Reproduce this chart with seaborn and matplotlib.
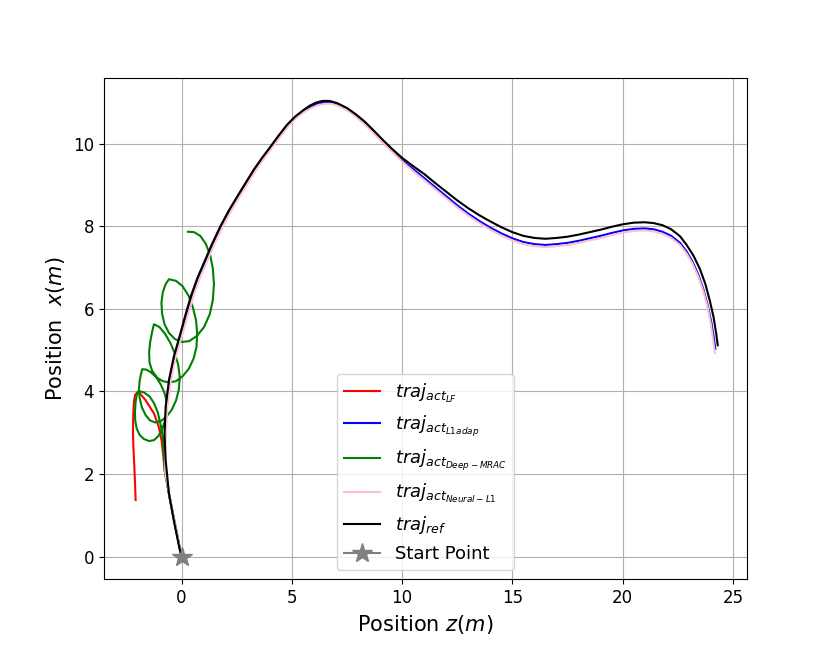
import pandas as pd
import seaborn as sns
import matplotlib
matplotlib.use('Agg')
import matplotlib.pyplot as plt

# reference trajectory
ref_z = [0.0, -0.12, -0.35, -0.57, -0.72, -0.77, -0.72, -0.57, -0.35, -0.05, 0.2, 0.45, 0.72, 1.01,
         1.38, 1.76, 2.14, 2.52, 2.9, 3.27, 3.65, 4.03, 4.4, 4.78, 5.15, 5.53, 5.8, 6.1, 6.4, 6.7,
         7.04, 7.5, 7.94, 8.3, 8.7, 9.1, 9.5, 10.0, 10.5, 11.0, 11.5, 12.0, 12.5, 13.0, 13.5, 14.0,
         14.5, 15.0, 15.5, 16.0, 16.5, 17.0, 17.5, 18.0, 18.5, 19.0, 19.5, 20.0, 20.5, 21.0, 21.4,
         21.8, 22.2, 22.6, 22.9, 23.2, 23.5, 23.75, 23.95, 24.12, 24.24, 24.31]
ref_x = [0.0, 0.27, 0.88, 1.53, 2.34, 2.98, 3.63, 4.28, 4.84, 5.41, 5.9, 6.35, 6.75, 7.11,
         7.57, 8.0, 8.38, 8.72, 9.05, 9.37, 9.66, 9.93, 10.2, 10.46, 10.66, 10.82, 10.92, 11.0, 11.04, 11.04,
         10.99, 10.87, 10.70, 10.54, 10.33, 10.11, 9.9, 9.66, 9.46, 9.27, 9.05, 8.84, 8.63, 8.44, 8.27, 8.12,
         7.98, 7.86, 7.77, 7.72, 7.70, 7.72, 7.75, 7.80, 7.86, 7.92, 7.99, 8.05, 8.09, 8.10, 8.08,
         8.03, 7.93, 7.76, 7.55, 7.3, 6.97, 6.6, 6.2, 5.8, 5.4, 5.12]

# L1 adaptive
l1_z = [0.0, -0.28, -0.55, -0.74, -0.76, -0.74, -0.68, -0.52, -0.3, 0.01, 0.26, 0.51, 0.78, 1.07,
        1.44, 1.82, 2.2, 2.58, 2.96, 3.33, 3.71, 4.09, 4.46, 4.84, 5.21, 5.59, 5.85, 6.15, 6.45, 6.75,
        7.08, 7.5, 7.94, 8.3, 8.7, 9.1, 9.5, 10.0, 10.5, 11.0, 11.5, 12.0, 12.5, 13.0, 13.5, 14.0,
        14.5, 15.0, 15.5, 16.0, 16.5, 17.0, 17.5, 18.0, 18.5, 19.0, 19.5, 20.0, 20.5, 21.0, 21.4,
        21.8, 22.2, 22.6, 22.9, 23.15, 23.42, 23.66, 23.86, 24.02, 24.13, 24.2]
l1_x = [0.0, 0.72, 1.45, 2.1, 2.6, 3.0, 3.63, 4.28, 4.84, 5.41, 5.9, 6.35, 6.75, 7.11,
        7.57, 8.0, 8.38, 8.72, 9.05, 9.37, 9.66, 9.93, 10.2, 10.46, 10.66, 10.82, 10.9, 10.97, 11.0, 11.0,
        10.95, 10.84, 10.66, 10.49, 10.28, 10.06, 9.85, 9.6, 9.39, 9.17, 8.95, 8.73, 8.51, 8.31, 8.13, 7.97,
        7.83, 7.71, 7.62, 7.57, 7.55, 7.57, 7.6, 7.65, 7.71, 7.77, 7.84, 7.9, 7.94, 7.95, 7.93,
        7.87, 7.77, 7.6, 7.39, 7.16, 6.84, 6.47, 6.07, 5.67, 5.3, 5.04]

# Neural-L1
nl1_z = [0.0, -0.27, -0.52, -0.74, -0.74, -0.71, -0.64, -0.48, -0.26, 0.05, 0.31, 0.56, 0.83, 1.12,
         1.49, 1.87, 2.25, 2.63, 3.01, 3.38, 3.76, 4.14, 4.51, 4.89, 5.26, 5.64, 5.9, 6.2, 6.5, 6.8,
         7.12, 7.55, 8.0, 8.35, 8.75, 9.15, 9.55, 10.0, 10.5, 11.0, 11.5, 12.0, 12.5, 13.0, 13.5, 14.0,
         14.5, 15.0, 15.5, 16.0, 16.5, 17.0, 17.5, 18.0, 18.5, 19.0, 19.5, 20.0, 20.5, 21.0, 21.4,
         21.8, 22.2, 22.6, 22.9, 23.15, 23.42, 23.66, 23.86, 24.0, 24.1, 24.18]
nl1_x = [0.0, 0.72, 1.4, 2.05, 2.6, 3.0, 3.63, 4.28, 4.84, 5.41, 5.9, 6.35, 6.75, 7.11,
         7.57, 8.0, 8.38, 8.72, 9.05, 9.37, 9.66, 9.93, 10.2, 10.46, 10.66, 10.8, 10.87, 10.94, 10.97, 10.97,
         10.92, 10.8, 10.62, 10.45, 10.24, 10.02, 9.81, 9.57, 9.34, 9.12, 8.9, 8.68, 8.46, 8.26, 8.08, 7.92,
         7.78, 7.66, 7.57, 7.52, 7.5, 7.52, 7.55, 7.6, 7.66, 7.72, 7.79, 7.85, 7.89, 7.9, 7.88,
         7.82, 7.72, 7.55, 7.34, 7.11, 6.79, 6.42, 6.02, 5.62, 5.25, 4.93]

# LF
lf_z = [0.0, -0.27, -0.53, -0.76, -0.83, -0.9, -1.03, -1.25, -1.63, -1.85, -2.0, -2.1, -2.16, -2.19,
        -2.2, -2.18, -2.14, -2.11, -2.08]
lf_x = [0.0, 0.72, 1.42, 2.07, 2.45, 2.8, 3.14, 3.47, 3.79, 3.93, 3.98, 3.92, 3.75, 3.4,
        3.0, 2.62, 2.2, 1.8, 1.37]

# Deep-MRAC
mrac_z = [0.0, -0.27, -0.53, -0.76, -0.8, -0.85, -0.95, -1.08, -1.25, -1.45, -1.71, -1.96,
          -2.03, -2.08, -2.11, -2.1, -2.03, -1.9, -1.71, -1.48, -1.25, -1.05, -0.88, -0.75, -0.67,
          -0.68, -0.78, -0.95, -1.15, -1.4, -1.6, -1.78,
          -1.84, -1.9, -1.93, -1.9, -1.8, -1.63, -1.43, -1.2, -0.95, -0.7, -0.45, -0.25, -0.12,
          -0.08, -0.15, -0.3, -0.5, -0.75, -1.0, -1.25,
          -1.33, -1.42, -1.47, -1.45, -1.33, -1.1, -0.85, -0.55, -0.25, 0.05, 0.33, 0.55, 0.68,
          0.71, 0.66, 0.52, 0.32, 0.05, -0.25, -0.57,
          -0.72, -0.85, -0.91, -0.88, -0.77, -0.57, -0.3, 0.03, 0.35, 0.7, 1.02, 1.28, 1.42,
          1.47, 1.42, 1.3, 1.1, 0.85, 0.57, 0.29]
mrac_x = [0.0, 0.72, 1.42, 2.07, 2.5, 2.9, 3.2, 3.5, 3.72, 3.88, 3.98, 4.01,
          3.92, 3.75, 3.51, 3.3, 3.1, 2.95, 2.85, 2.80, 2.82, 2.92, 3.08, 3.3, 3.55,
          3.78, 3.98, 4.18, 4.35, 4.47, 4.53, 4.54,
          4.42, 4.25, 4.05, 3.85, 3.62, 3.43, 3.3, 3.25, 3.28, 3.38, 3.55, 3.78, 4.05,
          4.35, 4.65, 4.92, 5.17, 5.4, 5.56, 5.63,
          5.45, 5.2, 4.95, 4.7, 4.5, 4.33, 4.25, 4.22, 4.25, 4.37, 4.55, 4.8, 5.08,
          5.4, 5.72, 6.03, 6.32, 6.55, 6.68, 6.72,
          6.6, 6.4, 6.15, 5.88, 5.63, 5.42, 5.27, 5.2, 5.22, 5.35, 5.56, 5.87, 6.22,
          6.6, 6.98, 7.3, 7.58, 7.77, 7.86, 7.87]

start_z = [0.0]
start_x = [0.0]

fig, ax = plt.subplots(figsize=(8.3, 6.51), dpi=100)

series = [
    (lf_z, lf_x, 'red', r'$traj_{act_{LF}}$'),
    (l1_z, l1_x, 'blue', r'$traj_{act_{L1adap}}$'),
    (mrac_z, mrac_x, 'green', r'$traj_{act_{Deep-MRAC}}$'),
    (nl1_z, nl1_x, 'pink', r'$traj_{act_{Neural-L1}}$'),
    (ref_z, ref_x, 'black', r'$traj_{ref}$'),
]
for zs, xs, col, lab in series:
    df = pd.DataFrame({'z': zs, 'x': xs})
    sns.lineplot(data=df, x='z', y='x', sort=False, estimator=None, color=col,
                 linewidth=1.5, label=lab, ax=ax)

ax.plot(start_z, start_x, marker='*', color='gray', markersize=15, label='Start Point')

ax.set_xlabel('Position $z(m)$', fontsize=15)
ax.set_ylabel('Position  $x(m)$', fontsize=15)
ax.tick_params(labelsize=12)
ax.grid(True)
ax.legend(loc='lower center', fontsize=13)
plt.savefig('out.png', dpi=100)
